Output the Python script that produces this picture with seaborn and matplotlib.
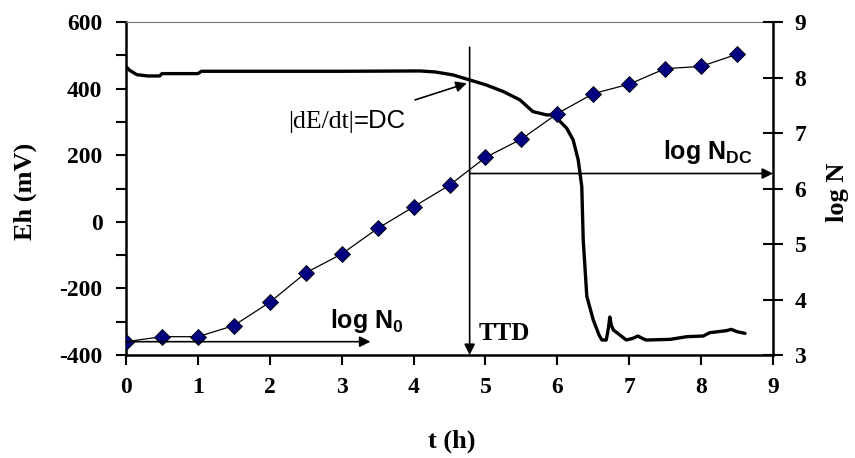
import matplotlib
matplotlib.use('Agg')
import matplotlib.pyplot as plt
import seaborn as sns

# Eh curve (left axis)
t_eh = [0, 0.05, 0.15, 0.3, 0.47, 0.5, 1.0, 1.05, 2, 3, 4.09, 4.3, 4.55, 4.78, 5.01, 5.25,
        5.48, 5.66, 5.85, 5.95, 6.13, 6.22, 6.29, 6.34, 6.36, 6.41, 6.5, 6.58, 6.62, 6.68,
        6.71, 6.73, 6.75, 6.78, 6.87, 6.96, 7.05, 7.12, 7.2, 7.24, 7.57, 7.8, 8.03, 8.12,
        8.35, 8.42, 8.5, 8.61]
eh = [466, 455, 442, 438, 438, 445, 445, 452, 452, 452, 453, 450, 441, 426, 411, 391,
      366, 331, 321, 321, 281, 246, 186, 106, -54, -224, -295, -340, -355, -355,
      -320, -286, -310, -325, -340, -355, -350, -343, -352, -355, -353, -345, -343, -333,
      -327, -323, -330, -335]

# log N points (right axis)
t_n = [0, 0.5, 1, 1.5, 2, 2.5, 3, 3.5, 4, 4.5, 5, 5.5, 6, 6.5, 7, 7.5, 8, 8.5]
log_n = [3.24, 3.33, 3.33, 3.53, 3.95, 4.48, 4.82, 5.28, 5.67, 6.06, 6.56, 6.89, 7.35,
         7.71, 7.88, 8.16, 8.20, 8.42]

ttd = 4.78
log_n_dc = 6.27
log_n0 = 3.24

x_ticks = list(range(0, 10))
eh_ticks = list(range(-400, 601, 200))
eh_minor = list(range(-300, 600, 200))
n_ticks = list(range(3, 10))

sns.set_style('ticks')
plt.rcParams['font.family'] = ['Liberation Serif', 'DejaVu Serif']
plt.rcParams['axes.unicode_minus'] = False
plt.rcParams['text.color'] = 'black'
plt.rcParams['axes.labelcolor'] = 'black'
plt.rcParams['mathtext.fontset'] = 'custom'
plt.rcParams['mathtext.rm'] = 'Liberation Sans'
plt.rcParams['mathtext.bf'] = 'Liberation Sans:bold'

fig = plt.figure(figsize=(8.55, 4.58), dpi=100)
ax = fig.add_axes([0.14737, 0.22489, 0.75673, 0.72707])

sns.lineplot(x=t_eh, y=eh, ax=ax, color='black', lw=2.4)
ax.set_xlim(0, 9)
ax.set_ylim(-400, 600)
ax.set_xticks(x_ticks)
ax.set_yticks(eh_ticks)
ax.set_yticks(eh_minor, minor=True)

ax2 = ax.twinx()
sns.lineplot(x=t_n, y=log_n, ax=ax2, color='black', lw=0.9, marker='D', markersize=8.5,
             markerfacecolor='#000080', markeredgecolor='black', markeredgewidth=0.6)
ax2.set_ylim(3, 9)
ax2.set_yticks(n_ticks)

# spines
for s in ['left', 'bottom']:
    ax.spines[s].set_linewidth(1.8)
    ax.spines[s].set_color('black')
ax.spines['right'].set_visible(False)
ax.spines['top'].set_linewidth(0.8)
ax.spines['top'].set_color('#707070')
for s in ['left', 'bottom', 'top']:
    ax2.spines[s].set_visible(False)
ax2.spines['right'].set_linewidth(1.8)
ax2.spines['right'].set_color('black')

ax.tick_params(axis='y', which='both', direction='out', length=7, width=1.5, pad=10, colors='black')
ax.tick_params(axis='x', direction='out', length=7, width=1.5, pad=9, colors='black')
ax2.tick_params(axis='y', direction='inout', length=15, width=1.5, pad=8, colors='black')
for lab in ax.get_xticklabels() + ax.get_yticklabels() + ax2.get_yticklabels():
    lab.set_fontsize(17)
    lab.set_fontweight('bold')

ax.set_xlabel('t (h)', fontsize=19, fontweight='bold')
ax.set_ylabel('Eh (mV)', fontsize=19, fontweight='bold')
ax2.set_ylabel('log N', fontsize=19, fontweight='bold')
ax.xaxis.set_label_coords(0.504, -0.225)
ax.yaxis.set_label_coords(-0.1376, 0.4925)
ax2.yaxis.set_label_coords(1.082, 0.49)

arrow = dict(arrowstyle='-|>', color='black', lw=1.2, mutation_scale=16, shrinkA=0, shrinkB=0)

# TTD vertical arrow
ax.annotate('', xy=(ttd, -400), xytext=(ttd, 524), arrowprops=arrow, annotation_clip=False)
ax.text(4.9, -355, 'TTD', fontsize=18, fontweight='bold')

# |dE/dt| = DC pointer
ax.annotate('', xy=(4.74, 416), xytext=(4.02, 366), arrowprops=arrow)
ax.text(3.17, 281, '|dE/dt|', fontsize=18.5, ha='right', va='baseline')
ax.text(3.17, 281, '=DC', fontsize=18.5, ha='left', va='baseline', family='Liberation Sans')

# log N0 arrow
ax2.annotate('', xy=(3.4, log_n0), xytext=(0, log_n0), arrowprops=arrow, annotation_clip=False)
ax.text(2.84, -320, r'log N$_\mathbf{0}$', fontsize=18, fontweight='bold',
        family='Liberation Sans', va='baseline')

# log N_DC arrow
ax2.annotate('', xy=(9, log_n_dc), xytext=(ttd, log_n_dc), arrowprops=arrow, annotation_clip=False)
ax2.text(7.47, 6.53, r'log N$_\mathbf{DC}$', fontsize=18, fontweight='bold',
         family='Liberation Sans', va='baseline')

fig.savefig('out.png', dpi=100)
